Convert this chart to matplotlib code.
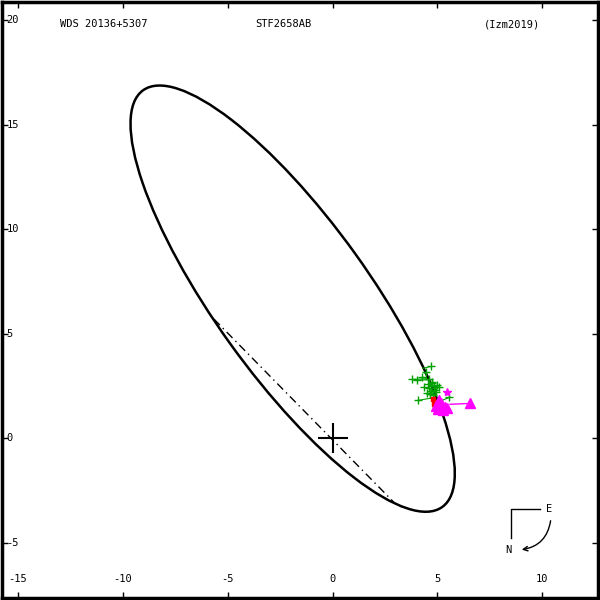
import numpy as np
import matplotlib
matplotlib.use("Agg")
import matplotlib.pyplot as plt
from matplotlib.patches import Ellipse, FancyArrowPatch

# apparent orbit ellipse
orbit_center = (-1.9, 6.68)
orbit_width = 24.5
orbit_height = 7.35
orbit_angle = -54.4

# line of nodes
node_x = [-5.65, 2.92]
node_y = [5.70, -3.05]

# micrometric observations (green +) and their orbit positions
green_x = [4.71, 4.48, 3.81, 4.05, 4.29, 4.76, 4.38, 5.10, 5.57, 4.10, 4.55,
           4.62, 4.70, 4.85, 4.90, 4.66, 4.80, 4.95, 4.58, 4.74, 5.00, 4.52]
green_y = [3.44, 3.16, 2.82, 2.78, 2.92, 2.63, 2.44, 2.44, 1.96, 1.82, 2.60,
           2.40, 2.25, 2.50, 2.30, 2.10, 2.05, 2.20, 2.85, 2.70, 2.55, 2.15]
green_px = [4.30, 4.40, 4.50, 4.52, 4.48, 4.62, 4.70, 4.70, 4.95, 4.85, 4.62,
            4.70, 4.76, 4.66, 4.74, 4.82, 4.84, 4.78, 4.52, 4.58, 4.64, 4.80]
green_py = [3.35, 3.10, 2.85, 2.80, 2.90, 2.55, 2.35, 2.35, 1.70, 1.95, 2.60,
            2.40, 2.25, 2.50, 2.30, 2.10, 2.05, 2.20, 2.85, 2.70, 2.55, 2.15]

# speckle observations (magenta triangles) and their orbit positions
tri_x = [4.95, 5.05, 5.15, 5.25, 5.35, 5.10, 5.45, 6.56]
tri_y = [1.55, 1.40, 1.70, 1.35, 1.50, 1.85, 1.45, 1.67]
tri_px = [4.98, 5.02, 5.06, 5.10, 5.12, 4.98, 5.15, 5.60]
tri_py = [1.55, 1.45, 1.70, 1.40, 1.50, 1.85, 1.45, 1.63]

# red points
red_x = [4.80, 4.85, 4.90]
red_y = [1.90, 1.65, 1.50]

# magenta star
star_x = [5.48]
star_y = [2.20]

xticks = [-15, -10, -5, 0, 5, 10]
yticks = [-5, 0, 5, 10, 15, 20]

fig = plt.figure(figsize=(6, 6), dpi=100)
ax = fig.add_axes([2/600, 2/600, 596/600, 596/600])
ax.set_xlim(-15.76, 12.66)
ax.set_ylim(-7.63, 20.86)

ax.add_patch(Ellipse(orbit_center, orbit_width, orbit_height, angle=orbit_angle,
                     fill=False, color="black", lw=1.8))
ax.plot(node_x, node_y, color="black", lw=1.0, ls=(0, (6, 3, 1, 3)))

# residual lines
for gx, gy, qx, qy in zip(green_x, green_y, green_px, green_py):
    ax.plot([gx, qx], [gy, qy], color="#00a000", lw=0.8)
for tx, ty, qx, qy in zip(tri_x, tri_y, tri_px, tri_py):
    ax.plot([tx, qx], [ty, qy], color="magenta", lw=1.0)

ax.plot(green_x, green_y, "+", color="#00a000", ms=5.5, mew=1.0)
ax.plot(red_x, red_y, "s", color="red", ms=3)
ax.plot(tri_x, tri_y, "^", color="magenta", ms=7.5, mec="magenta")
ax.plot(star_x, star_y, "*", color="magenta", ms=6)

ax.plot([0], [0], "+", color="black", ms=21, mew=1.5)

# axes styling
for s in ax.spines.values():
    s.set_linewidth(2.5)
ax.set_xticks(xticks)
ax.set_yticks(yticks)
ax.tick_params(direction="in", length=4, width=1, top=True, right=True,
               labelbottom=False, labelleft=False)

mono = "DejaVu Sans Mono"
for v in xticks:
    ax.text(v, -6.7, str(v), ha="center", va="center", fontsize=7.5, family=mono)
for v in yticks:
    ax.text(-15.55, v, str(v), ha="left", va="center", fontsize=7.5, family=mono)

ax.text(0.097, 0.963, "WDS 20136+5307", transform=ax.transAxes, ha="left",
        va="center", fontsize=7.5, family=mono)
ax.text(0.472, 0.963, "STF2658AB", transform=ax.transAxes, ha="center",
        va="center", fontsize=7.5, family=mono)
ax.text(0.856, 0.963, "(Izm2019)", transform=ax.transAxes, ha="center",
        va="center", fontsize=7.5, family=mono)

# compass
def af(px, py):
    return ((px - 2) / 596, (598 - py) / 596)

ax.plot(*zip(af(540, 509), af(511, 509), af(511, 538)), transform=ax.transAxes,
        color="black", lw=1)
ax.text(*af(549, 509), "E", transform=ax.transAxes, ha="center", va="center",
        fontsize=7.5, family=mono)
ax.text(*af(508, 550), "N", transform=ax.transAxes, ha="center", va="center",
        fontsize=7.5, family=mono)
ax.add_patch(FancyArrowPatch(af(551, 518), af(519, 550), transform=ax.transAxes,
                             connectionstyle="arc3,rad=-0.4", arrowstyle="->",
                             mutation_scale=8, lw=1, color="black"))

fig.savefig("out.png", dpi=100)
